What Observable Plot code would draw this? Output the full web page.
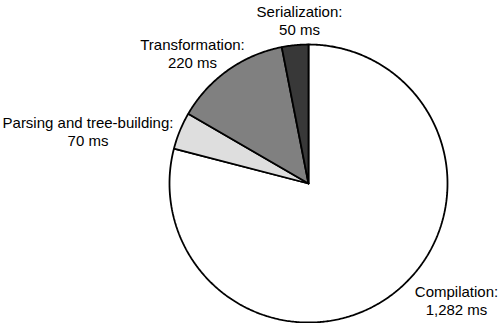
<!DOCTYPE html>
<html>
<head>
<meta charset="utf-8">
<script src="https://cdn.jsdelivr.net/npm/d3@7"></script>
<script src="https://cdn.jsdelivr.net/npm/@observablehq/plot@0.6"></script>
<style>
  html, body { margin: 0; padding: 0; background: #fff; }
  #chart { width: 500px; height: 323px; }
</style>
</head>
<body>
<div id="chart"></div>
<script>
// ---- data ----
const categories = ["Compilation", "Parsing and tree-building", "Transformation", "Serialization"];
const values = [1282, 70, 220, 50];
const valueLabels = ["1,282 ms", "70 ms", "220 ms", "50 ms"];

// ---- layout (styling / geometry, not data) ----
const W = 500, H = 323;
const cx = 308, cy = 183, R = 139;
const fills = ["#ffffff", "#dedede", "#808080", "#383838"];
// label anchor points in pixels (centre x, baseline of the last line)
const labelPos = {
  "Compilation": [456, 314],
  "Parsing and tree-building": [87.5, 145],
  "Transformation": [192, 67],
  "Serialization": [299, 34]
};

const rows = categories.map((c, i) => ({category: c, value: values[i], label: valueLabels[i]}));
const arcs = d3.pie().sort(null).value(d => d.value).startAngle(0).endAngle(2 * Math.PI)(rows);

// polygon points of each slice in unit (radius = 1) coordinates
const slicePts = [];
for (const a of arcs) {
  const n = Math.max(4, Math.ceil((a.endAngle - a.startAngle) / 0.01));
  slicePts.push({category: a.data.category, x: 0, y: 0});
  for (let k = 0; k <= n; k++) {
    const t = a.startAngle + (a.endAngle - a.startAngle) * k / n;
    slicePts.push({category: a.data.category, x: Math.sin(t), y: Math.cos(t)});
  }
  slicePts.push({category: a.data.category, x: 0, y: 0});
}

const labelRows = rows.map(r => ({
  text: r.category + ":\n" + r.label,
  x: (labelPos[r.category][0] - cx) / R,
  y: (cy - labelPos[r.category][1]) / R
}));

const chart = Plot.plot({
  width: W,
  height: H,
  margin: 0,
  style: {fontFamily: "'Liberation Sans', Arial, Helvetica, sans-serif", background: "#fff"},
  x: {domain: [-cx / R, (W - cx) / R], axis: null},
  y: {domain: [-(H - cy) / R, cy / R], axis: null},
  color: {domain: categories, range: fills},
  marks: [
    Plot.line(slicePts, {
      x: "x", y: "y", z: "category",
      fill: "category",
      stroke: "#000",
      strokeWidth: 1.8,
      strokeLinejoin: "miter",
      curve: "linear"
    }),
    Plot.text(labelRows, {
      x: "x", y: "y", text: "text",
      fontSize: 15,
      lineHeight: 1.17,
      lineAnchor: "bottom",
      textAnchor: "middle",
      fill: "#000"
    })
  ]
});
document.getElementById("chart").appendChild(chart);
</script>
</body>
</html>
